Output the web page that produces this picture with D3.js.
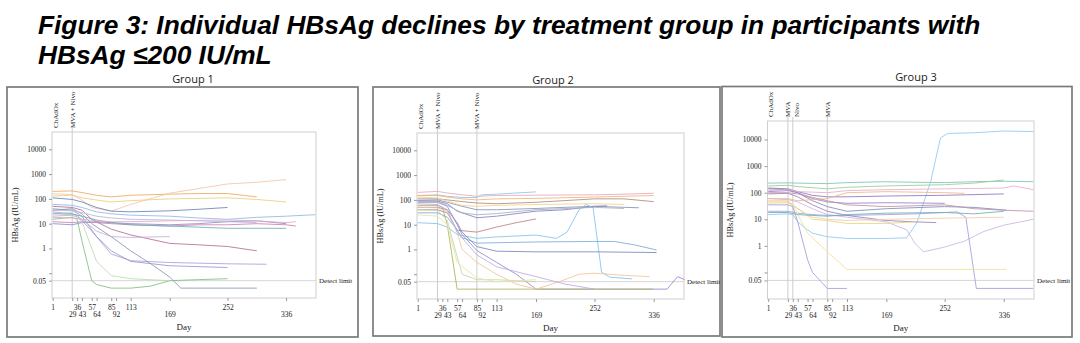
<!DOCTYPE html>
<html>
<head>
<meta charset="utf-8">
<style>
body { margin: 0; background: #fff; }
svg { display: block; }
</style>
</head>
<body>
<svg width="1080" height="343"></svg>
<script src="https://cdn.jsdelivr.net/npm/d3@7"></script>
<script>

// ---- data ----
var tickDays = [1, 29, 36, 43, 57, 64, 85, 92, 113, 169, 252, 336];
var yTicks = [0.05, 0.1, 1, 10, 100, 1000, 10000];
var yTickLabels = ["0.05", "", "1", "10", "100", "1000", "10000"];
var detectLimit = 0.05;
var groupNames = ["Group 1", "Group 2", "Group 3"];

var events1 = [{day: 1, label: "ChAdOx"}, {day: 29, label: "MVA + Nivo"}];
var events2 = [{day: 1, label: "ChAdOx"}, {day: 29, label: "MVA + Nivo"}, {day: 85, label: "MVA + Nivo"}];
var events3 = [{day: 1, label: "ChAdOx"}, {day: 29, label: "MVA"}, {day: 36, label: "Nivo"}, {day: 85, label: "MVA"}];

// each participant: [day, HBsAg IU/mL]
var group1 = [
  [[1,200],[29,210],[43,180],[64,140],[85,120],[113,140],[169,155],[210,165],[252,165],[294,120]],
  [[1,160],[29,150],[43,90],[57,45],[85,32],[113,60],[169,170],[210,260],[252,400],[294,470],[336,600]],
  [[1,130],[29,140],[43,110],[64,90],[85,75],[113,85],[169,100],[252,110],[294,95],[336,75]],
  [[1,110],[29,95],[43,75],[64,45],[85,32],[113,30],[169,33],[210,38],[252,45]],
  [[1,60],[29,55],[43,45],[64,30],[85,25],[113,22],[169,20],[210,17],[252,15],[294,18],[336,20],[378,23]],
  [[1,12],[29,11],[43,12],[64,11],[85,10],[113,9],[169,8],[210,9],[252,9],[294,10],[336,9],[350,8]],
  [[1,10],[29,9],[43,11],[64,12],[85,11],[113,10],[169,9],[210,10],[252,12],[294,13],[336,10]],
  [[1,50],[29,45],[43,35],[57,15],[85,6],[113,3.5],[169,1.6],[210,1.4],[252,1.2],[294,0.8]],
  [[1,30],[29,25],[36,22],[57,5],[85,0.6],[113,0.32],[169,0.27],[252,0.24],[308,0.23]],
  [[1,40],[29,35],[43,20],[64,3],[85,0.8],[113,0.3],[169,0.2],[252,0.17]],
  [[1,35],[29,40],[43,25],[57,10],[85,3],[113,0.8],[141,0.25],[169,0.07],[185,0.025],[294,0.025]],
  [[1,15],[29,18],[36,15],[43,2],[57,0.05],[64,0.035],[85,0.025],[113,0.025],[141,0.03],[169,0.05],[210,0.055],[252,0.06]],
  [[1,25],[29,28],[43,12],[57,1],[64,0.3],[85,0.08],[113,0.06],[169,0.05]],
  [[1,20],[29,22],[43,15],[64,5],[85,3],[113,2.8],[169,3]],
  [[1,25],[29,24],[43,20],[64,14],[85,11],[113,9],[169,8],[252,6.5],[336,6.5]],
  [[1,35],[29,33],[43,28],[64,20],[85,17],[113,15],[169,14],[252,12],[294,11]],
  [[1,18],[29,17],[43,15],[64,13],[85,12],[113,12],[169,13],[252,14],[294,13],[336,11],[350,12]]
];

var group2 = [
  [[1,150],[29,160],[43,140],[64,125],[85,125],[92,160],[113,170],[141,190],[169,210]],
  [[1,200],[29,220],[43,190],[64,160],[85,140],[113,150],[169,155],[252,160],[294,170],[336,185]],
  [[1,150],[29,150],[43,130],[64,110],[85,100],[113,110],[169,115],[252,130],[336,150]],
  [[1,110],[29,110],[43,100],[64,85],[85,75],[113,70],[169,80],[252,110],[294,110],[336,85]],
  [[1,95],[29,100],[43,80],[64,55],[85,40],[113,40],[169,45],[210,50],[252,55],[294,50],[315,48]],
  [[1,90],[29,90],[43,70],[57,35],[85,19],[113,22],[169,35],[210,40],[252,55],[270,58]],
  [[1,40],[29,40],[43,30],[57,6],[85,5],[113,8],[141,12],[169,17]],
  [[1,12],[29,11],[43,8],[57,4],[85,2.8],[113,3.2],[169,3.8],[198,2.8],[213,5],[230,40],[240,65],[250,48],[262,0.12],[274,0.076],[305,0.065]],
  [[1,30],[29,30],[43,20],[57,6],[64,3],[85,1.8],[169,2],[252,2.1],[280,2.1],[310,1.5],[340,0.95]],
  [[1,50],[29,50],[43,40],[57,12],[64,5],[85,1.3],[113,0.85],[169,0.8],[252,0.8],[340,0.75]],
  [[1,80],[29,80],[43,55],[57,10],[64,4],[85,0.9],[113,0.3],[141,0.1],[169,0.025],[252,0.025],[336,0.025],[355,0.025],[370,0.08],[380,0.06]],
  [[1,60],[29,60],[36,50],[43,10],[57,0.025],[336,0.025]],
  [[1,50],[29,48],[43,35],[57,5],[64,1],[85,0.3],[113,0.1],[141,0.04],[169,0.025],[202,0.05],[230,0.1],[252,0.11],[294,0.09],[330,0.08]],
  [[1,70],[29,65],[43,40],[57,5],[85,0.6],[113,0.2],[169,0.08],[210,0.04],[252,0.025]],
  [[1,40],[29,38],[43,15],[57,0.5],[64,0.1],[85,0.06],[113,0.06],[169,0.05]],
  [[1,25],[29,22],[43,10],[57,0.3],[85,0.07],[113,0.05],[169,0.06]],
  [[1,130],[29,120],[43,90],[64,60],[85,55],[113,60],[169,65],[252,70],[294,65]],
  [[1,90],[29,85],[43,60],[64,30],[85,25],[113,28],[169,40],[252,50],[294,45]]
];

var group3 = [
  [[1,15],[29,16],[36,15],[43,8],[57,4],[64,3],[85,2.2],[113,1.9],[169,1.9],[198,2],[213,8],[232,260],[246,11500],[256,17000],[294,18000],[336,21000],[378,20000]],
  [[1,60],[29,55],[43,45],[64,25],[85,15],[113,12],[169,8],[198,4],[210,1.2],[222,0.6],[252,0.9],[280,1.5],[308,3.5],[336,6],[378,10]],
  [[1,20],[29,20],[43,17],[64,15],[85,14],[113,14],[169,15],[210,16],[252,18],[270,19],[282,12],[297,0.025],[378,0.025]],
  [[1,35],[29,35],[36,30],[43,8],[57,0.3],[64,0.1],[85,0.025],[113,0.025]],
  [[1,40],[29,42],[36,35],[57,3],[85,0.6],[113,0.13],[169,0.13],[252,0.13],[340,0.13]],
  [[1,230],[29,235],[43,230],[85,220],[113,240],[169,260],[198,250],[252,240],[294,260],[336,270],[378,260]],
  [[1,180],[29,190],[43,170],[85,140],[113,160],[169,180],[252,200],[294,230],[336,300]],
  [[1,150],[29,140],[43,110],[64,80],[85,70],[113,70],[169,75],[252,80],[336,90]],
  [[1,110],[29,120],[43,100],[64,60],[85,45],[113,40],[169,42],[252,40]],
  [[1,140],[29,130],[43,100],[64,50],[85,30],[113,20],[169,25],[252,30],[294,28],[340,22]],
  [[1,90],[29,95],[43,70],[64,35],[85,20],[113,14],[169,9],[210,8],[240,7.5]],
  [[1,60],[29,60],[43,50],[64,55],[85,60],[113,100],[169,110],[252,100],[280,95]],
  [[1,50],[29,50],[43,25],[64,12],[85,10],[113,9],[169,10],[252,11],[336,12]],
  [[1,45],[29,45],[43,25],[64,10],[85,9],[113,7],[169,7],[210,8]],
  [[1,120],[29,130],[43,110],[85,100],[113,120],[169,130],[252,140],[336,150],[350,180],[378,130]],
  [[1,100],[29,100],[43,90],[85,50],[113,35],[169,30],[252,35],[294,25],[336,22],[378,20]],
  [[1,18],[29,18],[43,15],[85,13],[113,15],[169,17],[252,18],[294,16],[336,20]]
];

var palette = ["#f0a860", "#f5c6a5", "#e6d07a", "#7080b8", "#8fb8e0", "#cc80b4", "#8c8cd0", "#b07098",
               "#a8a0d8", "#9898c8", "#8898b0", "#80c080", "#bcdca8", "#c4acdc", "#70b0a8", "#bcb4e2",
               "#e4a8c6", "#f0d080", "#a4b0c0"];
var palette2 = ["#8ec5e8", "#e8a8bc", "#f0b478", "#b08c80", "#8494b8", "#8a7cc6", "#c08088", "#84c2e8",
                "#78acdc", "#7888b8", "#9888cc", "#b0b05c", "#f2c498", "#bcace2", "#bcdaa6", "#eae2a6",
                "#f0d488", "#a4b0c0"];
var palette3 = ["#90c8f0", "#ccb4e2", "#a0a0dc", "#a898dc", "#f0e098", "#7cc4b4", "#98cc98", "#8f74bc",
                "#9a80c6", "#7c8cb8", "#9a80b8", "#f2b688", "#f2cca8", "#e4d47c", "#eaaccc", "#c090a8", "#6cb0b8"];

// ---- layout ----
var svg = d3.select("svg");

svg.append("text")
    .attr("x", 38).attr("y", 33.5)
    .style("font", "italic bold 26.3px 'Liberation Sans', Arial, sans-serif")
    .text("Figure 3: Individual HBsAg declines by treatment group in participants with");
svg.append("text")
    .attr("x", 38).attr("y", 64)
    .style("font", "italic bold 26.3px 'Liberation Sans', Arial, sans-serif")
    .text("HBsAg \u2264200 IU/mL");

var panels = [
  {box: [7, 87, 358, 337], plot: [52, 132, 316, 298], titleX: 193, titleY: 83, series: group1, events: events1, colors: palette},
  {box: [373, 87, 720, 336], plot: [417, 133, 684, 299], titleX: 553, titleY: 84, series: group2, events: events2, colors: palette2},
  {box: [722, 86.5, 1072, 337], plot: [767.5, 121, 1034, 299], titleX: 916, titleY: 81, series: group3, events: events3, colors: palette3}
];

var serif = "'Liberation Serif', 'Times New Roman', serif";

panels.forEach(function(p, k) {
    var left = p.plot[0], top = p.plot[1], right = p.plot[2], bottom = p.plot[3];

    var x = d3.scaleLinear().domain([0, 379]).range([left, right]);
    var y = d3.scaleLog().domain([0.01, 50000]).range([bottom, top]);

    var g = svg.append("g");

    g.append("rect")
        .attr("x", p.box[0]).attr("y", p.box[1])
        .attr("width", p.box[2] - p.box[0]).attr("height", p.box[3] - p.box[1])
        .attr("fill", "none").attr("stroke", "#7a7a7a").attr("stroke-width", 1.7);

    svg.append("text")
        .attr("x", p.titleX).attr("y", p.titleY)
        .attr("text-anchor", "middle")
        .style("font", "11px 'Open Sans', sans-serif")
        .style("fill", "#222")
        .text(groupNames[k]);

    // plot frame
    g.append("rect")
        .attr("x", left).attr("y", top)
        .attr("width", right - left).attr("height", bottom - top)
        .attr("fill", "none").attr("stroke", "#cfcfcf").attr("stroke-width", 1);

    // detect limit
    g.append("line")
        .attr("x1", left).attr("x2", right)
        .attr("y1", y(detectLimit)).attr("y2", y(detectLimit))
        .attr("stroke", "#d6d6d6");
    g.append("text")
        .attr("x", right + 3).attr("y", y(detectLimit)).attr("dy", "0.35em")
        .style("font", "7px " + serif).style("fill", "#222")
        .text("Detect limit");

    // treatment events
    var prev = -100;
    p.events.forEach(function(e) {
        var ex = x(e.day);
        var lx = Math.max(ex, prev + 8.5, left + 3.2);
        prev = lx;
        if (e.day > 1) {
            g.append("line")
                .attr("x1", ex).attr("x2", ex)
                .attr("y1", top - 4).attr("y2", bottom)
                .attr("stroke", "#cdcdcd");
        }
        g.append("text")
            .attr("transform", "translate(" + lx + "," + (top - 4) + ") rotate(-90)")
            .attr("dy", "0.35em")
            .style("font", "7px " + serif).style("fill", "#222")
            .text(e.label);
    });

    // lines
    var line = d3.line()
        .x(function(d) { return x(d[0]); })
        .y(function(d) { return y(d[1]); });

    g.selectAll("path.subj")
        .data(p.series)
        .enter().append("path")
        .attr("class", "subj")
        .attr("fill", "none")
        .attr("stroke", function(d, i) { return p.colors[i % p.colors.length]; })
        .attr("stroke-width", 1)
        .attr("stroke-opacity", 0.85)
        .attr("d", line);

    // axes
    var xAxis = g.append("g")
        .attr("transform", "translate(0," + bottom + ")")
        .call(d3.axisBottom(x).tickValues(tickDays).tickSize(3).tickFormat(d3.format("d")));
    xAxis.select(".domain").remove();
    xAxis.selectAll(".tick line").attr("stroke", "#9a9a9a");
    xAxis.selectAll(".tick text")
        .attr("y", function(d, i) { return i % 2 === 0 ? 7 : 14; })
        .attr("dy", "0.71em")
        .style("font", "7.5px " + serif).style("fill", "#222");

    var yAxis = g.append("g")
        .attr("transform", "translate(" + left + ",0)")
        .call(d3.axisLeft(y).tickValues(yTicks).tickSize(3)
            .tickFormat(function(d, i) { return yTickLabels[i]; }));
    yAxis.select(".domain").remove();
    yAxis.selectAll(".tick line").attr("stroke", "#9a9a9a");
    yAxis.selectAll(".tick text")
        .style("font", "7.5px " + serif).style("fill", "#222");

    g.append("text")
        .attr("x", (left + right) / 2).attr("y", bottom + 32)
        .attr("text-anchor", "middle")
        .style("font", "9px " + serif).style("fill", "#222")
        .text("Day");

    g.append("text")
        .attr("transform", "translate(" + (left - 37) + "," + ((top + bottom) / 2) + ") rotate(-90)")
        .attr("text-anchor", "middle").attr("dy", "0.35em")
        .style("font", "8.3px " + serif).style("fill", "#222")
        .text("HBsAg (IU/mL)");
});

</script>
</body>
</html>
